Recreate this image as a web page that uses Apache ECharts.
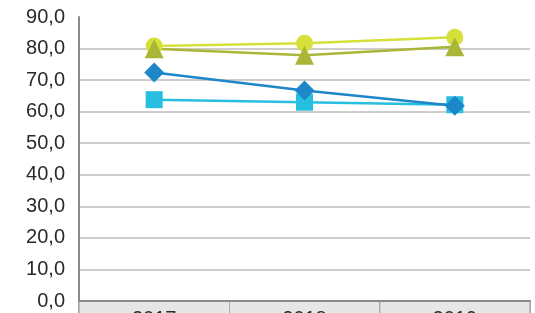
<!DOCTYPE html>
<html>
<head>
  <meta charset="UTF-8">
  <title>Chart</title>
  <style>
    html, body { margin: 0; padding: 0; background: #fff; }
    #chart { width: 535px; height: 313px; }
  </style>
  <script src="https://cdn.jsdelivr.net/npm/echarts@6/dist/echarts.min.js"></script>
</head>
<body>
  <div id="chart"></div>
  <script>
    var years = ['2017', '2018', '2019'];
    var yTicks = [0, 10, 20, 30, 40, 50, 60, 70, 80, 90];

    var circleVals = [80.8, 81.7, 83.6];
    var triangleVals = [79.9, 77.9, 80.6];
    var diamondVals = [72.4, 66.7, 61.9];
    var squareVals = [63.8, 63.0, 62.2];

    var myChart = echarts.init(document.getElementById('chart'));

    // gridline colours: last one (90) hidden
    var gridColors = yTicks.map(function (v, i) {
      return i === yTicks.length - 1 ? 'rgba(0,0,0,0)' : '#bdbdbd';
    });

    function line(name, data, symbol, size, color) {
      return {
        name: name,
        type: 'line',
        data: data,
        symbol: symbol,
        symbolSize: size,
        showSymbol: true,
        lineStyle: { color: color, width: 2.5 },
        itemStyle: { color: color, borderWidth: 0 }
      };
    }

    var option = {
      animation: false,
      grid: { left: 79, right: 5, top: 17, bottom: 12, containLabel: false, outerBoundsMode: 'none' },
      xAxis: {
        type: 'category',
        data: years,
        boundaryGap: true,
        axisLine: { lineStyle: { color: '#8a8a8a', width: 2 } },
        axisTick: { show: true, length: 14, lineStyle: { color: '#8a8a8a', width: 1.5 } },
        axisLabel: {
          margin: 1,
          width: 149,
          height: 30,
          padding: [7, 0, 0, 0],
          align: 'center',
          verticalAlign: 'top',
          backgroundColor: '#e6e6e6',
          color: '#2a2a2a',
          fontFamily: 'Liberation Sans',
          fontSize: 20
        }
      },
      yAxis: {
        type: 'value',
        min: 0,
        max: 90,
        interval: 10,
        axisLine: { show: true, lineStyle: { color: '#8a8a8a', width: 2 } },
        axisTick: { show: false },
        splitLine: { lineStyle: { color: gridColors, width: 1.5 } },
        axisLabel: {
          margin: 14,
          color: '#2a2a2a',
          fontFamily: 'Liberation Sans',
          fontSize: 20,
          formatter: function (v) { return v.toFixed(1).replace('.', ','); }
        }
      },
      series: [
        line('A', squareVals, 'rect', 17, '#27bfe0'),
        line('B', diamondVals, 'diamond', 20, '#1e87c9'),
        line('C', circleVals, 'circle', 17, '#d5e03b'),
        line('D', triangleVals, 'triangle', 19, '#a9b637')
      ]
    };
    myChart.setOption(option);
  </script>
</body>
</html>
